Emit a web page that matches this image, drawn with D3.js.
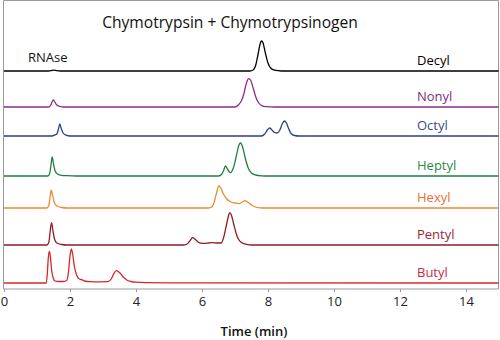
<!DOCTYPE html>
<html><head><meta charset="utf-8">
<script src="https://cdn.jsdelivr.net/npm/d3@7"></script>
<style>body{margin:0;background:#fff}svg{display:block}text{font-family:"Open Sans",sans-serif}</style>
</head><body><svg id="c" width="500" height="340"></svg>
<script>
// ---- data ----
const xTicks = [0, 2, 4, 6, 8, 10, 12, 14];
const seriesNames = ["Decyl", "Nonyl", "Octyl", "Heptyl", "Hexyl", "Pentyl", "Butyl"];
const offsets = [218, 182, 153, 113, 81, 44, 6];
const decyl = [[0,0],[1.35,0],[1.5,0.8],[1.7,0],[7.45,0],[7.55,1],[7.62,5],[7.7,17],[7.76,27],[7.8,30],[7.85,28],[7.92,18],[8.0,8],[8.08,3],[8.2,0.8],[8.4,0],[15,0]];
const nonyl = [[0,0],[1.35,0],[1.42,2],[1.47,6],[1.5,7],[1.54,5],[1.6,2],[1.7,0.5],[1.8,0],[7.0,0],[7.1,2],[7.19,6],[7.26,12],[7.33,22],[7.38,27],[7.42,28.3],[7.47,27],[7.55,19],[7.63,10],[7.72,4],[7.82,1.2],[7.95,0.3],[8.2,0],[15,0]];
const octyl = [[0,0],[1.45,0],[1.55,1.2],[1.6,2],[1.65,7],[1.69,12],[1.73,8],[1.79,3],[1.88,0.8],[2.0,0],[7.8,0],[7.9,2],[7.98,6],[8.05,8],[8.12,6],[8.2,3.5],[8.28,3],[8.36,6],[8.43,12],[8.5,15],[8.56,13],[8.63,7],[8.7,2.5],[8.8,0.5],[8.95,0],[15,0]];
const heptyl = [[0,0],[1.33,0],[1.38,2],[1.42,10],[1.46,19],[1.5,12],[1.55,5],[1.62,2],[1.75,0.6],[1.9,0.3],[2.2,0],[6.5,0],[6.6,2],[6.66,6],[6.71,10],[6.77,7],[6.86,3.3],[6.95,8],[7.04,20],[7.12,31],[7.17,33],[7.23,29],[7.31,18],[7.4,8],[7.5,3],[7.62,1],[7.8,0.2],[8,0],[15,0]];
const hexyl = [[0,0],[1.3,0],[1.36,3],[1.4,12],[1.43,18],[1.47,13],[1.52,6],[1.6,2],[1.75,0.5],[1.9,0],[6.2,0],[6.3,1],[6.37,6],[6.44,15],[6.51,22],[6.57,20],[6.65,14],[6.75,9],[6.88,6],[7.0,5],[7.12,4.3],[7.22,6],[7.3,7.3],[7.38,6],[7.5,3],[7.62,1],[7.75,0.2],[7.9,0],[15,0]];
const pentyl = [[0,0],[1.3,0],[1.36,3],[1.4,14],[1.44,22.3],[1.48,15],[1.53,6],[1.6,2],[1.75,0.5],[1.9,0],[5.45,0],[5.55,1],[5.63,4],[5.72,7.3],[5.8,5.5],[5.88,3],[5.97,1.8],[6.1,1.6],[6.2,2],[6.31,2.3],[6.45,2],[6.58,2],[6.66,8],[6.74,20],[6.8,29],[6.84,32.3],[6.89,30],[6.96,21],[7.04,11],[7.12,5],[7.22,2],[7.35,0.6],[7.5,0],[15,0]];
const butyl = [[0,0],[1.28,0],[1.31,8],[1.34,24],[1.37,31.6],[1.4,28],[1.44,14],[1.49,5],[1.55,2],[1.65,1.5],[1.8,1.5],[1.9,2.5],[1.95,10],[2.0,27],[2.04,34],[2.08,29],[2.13,17],[2.2,8],[2.28,4],[2.37,3.2],[2.45,2],[2.6,1.4],[2.9,1.2],[3.15,1.3],[3.25,4],[3.33,9.5],[3.41,12.3],[3.5,10.5],[3.6,6.5],[3.72,3],[3.85,1.5],[4.0,0.8],[4.3,0.4],[5,0.2],[15,0]];
const traces = [decyl, nonyl, octyl, heptyl, hexyl, pentyl, butyl];
const lineColors = ["#000000", "#8a2b8c", "#2f3e8c", "#1e8040", "#ee8a2e", "#8e1b25", "#d7262a"];
const labelColors = ["#000000", "#7b2d7e", "#3b4a8c", "#2a8a4a", "#e8703a", "#a0243a", "#cc2a44"];
const title = "Chymotrypsin + Chymotrypsinogen";
const xLabel = "Time (min)";
const peakLabel = "RNAse";

// ---- layout ----
const svg = d3.select("#c");
const L = 3.5, R = 498.5, T = 0.5, B = 289;
const x = d3.scaleLinear().domain([0, 15]).range([4, 499]);
const y = d3.scaleLinear().domain([0, 288]).range([B, B - 288]);

svg.append("path").attr("d", `M${L},${B}V${T}H${R}V${B}`).attr("fill", "none").attr("stroke", "#9a9a9a").attr("stroke-width", 1);

const line = d3.line().x(d => x(d[0])).y(d => y(d[1])).curve(d3.curveMonotoneX);
svg.append("clipPath").attr("id", "pc").append("rect").attr("x", L).attr("y", 0).attr("width", R - L).attr("height", B);
traces.forEach((tr, i) => {
  const off = offsets[i];
  svg.append("path").datum(tr.map(d => [d[0], d[1] + off]))
    .attr("d", line).attr("fill", "none").attr("stroke", lineColors[i])
    .attr("stroke-width", 1.3).attr("clip-path", "url(#pc)");
  svg.append("text").attr("x", 417).attr("y", y(off) - 6.5)
    .attr("font-size", 13).attr("fill", labelColors[i]).text(seriesNames[i]);
});

const ax = svg.append("g").attr("transform", `translate(0,${B})`)
  .call(d3.axisBottom(x).tickValues(xTicks).tickSize(3).tickSizeOuter(0).tickPadding(5));
ax.select(".domain").attr("stroke", "#9a9a9a").attr("d", `M${L},0H${R}`);
ax.selectAll(".tick line").attr("stroke", "#9a9a9a");
ax.selectAll(".tick text").attr("font-size", 13).attr("fill", "#222").style("font-family", '"Open Sans",sans-serif');

svg.append("text").attr("x", 230).attr("y", 28).attr("text-anchor", "middle")
  .attr("font-size", 15.6).attr("fill", "#111").text(title);
svg.append("text").attr("x", 28).attr("y", 62).attr("font-size", 13).attr("fill", "#111").text(peakLabel);
svg.append("text").attr("x", 254).attr("y", 336).attr("text-anchor", "middle")
  .attr("font-size", 13).attr("font-weight", 600).attr("fill", "#111").text(xLabel);
</script></body></html>
